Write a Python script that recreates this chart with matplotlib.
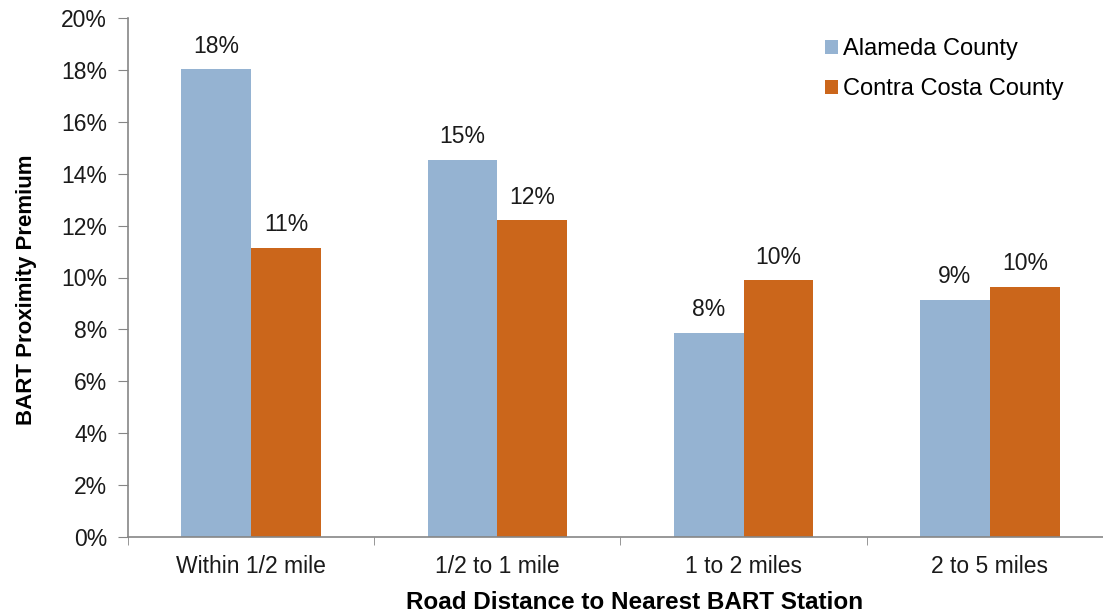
import matplotlib
matplotlib.use("Agg")
import matplotlib.pyplot as plt
import numpy as np
from matplotlib.ticker import FuncFormatter, MultipleLocator

plt.rcParams['font.family'] = ['Liberation Sans', 'DejaVu Sans']

categories = ["Within 1/2 mile", "1/2 to 1 mile", "1 to 2 miles", "2 to 5 miles"]
series_names = ["Alameda County", "Contra Costa County"]
alameda = [18.02, 14.53, 7.87, 9.15]
contra_costa = [11.15, 12.2, 9.89, 9.63]
colors = ["#95B3D2", "#CB661B"]

FS = 16.5
fig = plt.figure(figsize=(11.03, 6.14), dpi=100)
W, H = 1103, 614
left, right, bottom, top = 128, 1113, 537, 18
ax = fig.add_axes([left / W, 1 - bottom / H, (right - left) / W, (bottom - top) / H])

x = np.arange(len(categories))
bw = 70 / 247
b1 = ax.bar(x - bw / 2, alameda, bw, color=colors[0], label=series_names[0])
b2 = ax.bar(x + bw / 2, contra_costa, bw, color=colors[1], label=series_names[1])

for bars, vals in ((b1, alameda), (b2, contra_costa)):
    for rect, v in zip(bars, vals):
        ax.annotate(f"{round(v):.0f}%", (rect.get_x() + rect.get_width() / 2, rect.get_height()),
                    xytext=(0, 12), textcoords="offset points", ha="center", va="baseline",
                    fontsize=FS, color="#1a1a1a")

ax.set_xlim(-0.5, len(categories) - 0.5)
ax.set_ylim(0, 20)
ax.yaxis.set_major_locator(MultipleLocator(2))
ax.yaxis.set_major_formatter(FuncFormatter(lambda v, p: f"{v:.0f}%"))
ax.set_xticks(x)
ax.set_xticklabels(categories)
ax.set_xticks(np.arange(len(categories) + 1) - 0.5, minor=True)
ax.tick_params(axis='x', which='major', length=0, pad=13, labelsize=FS, labelcolor="#1a1a1a")
ax.tick_params(axis='x', which='minor', length=6, color="#868686", direction='out')
ax.tick_params(axis='y', which='major', length=7, color="#868686", direction='out', labelsize=FS,
               labelcolor="#1a1a1a", pad=8)

for s in ("top", "right"):
    ax.spines[s].set_visible(False)
for s in ("left", "bottom"):
    ax.spines[s].set_color("#868686")
    ax.spines[s].set_linewidth(1.2)

ax.set_ylabel("BART Proximity Premium", fontsize=16, fontweight="bold")
ax.set_xlabel("Road Distance to Nearest BART Station", fontsize=17.5, fontweight="bold")
ax.yaxis.set_label_coords((37 - left) / (right - left), (bottom - 290) / (bottom - top))
ax.xaxis.set_label_coords((635 - left) / (right - left), (bottom - 591) / (bottom - top))

leg = ax.legend(loc="upper left", bbox_to_anchor=((825 - left) / (right - left), 1 - (38 - top) / (bottom - top)),
                frameon=False, fontsize=17, handlelength=0.55, handleheight=0.55, handletextpad=0.2,
                labelspacing=0.78, borderaxespad=0, borderpad=0)

fig.savefig("out.png", dpi=100)
